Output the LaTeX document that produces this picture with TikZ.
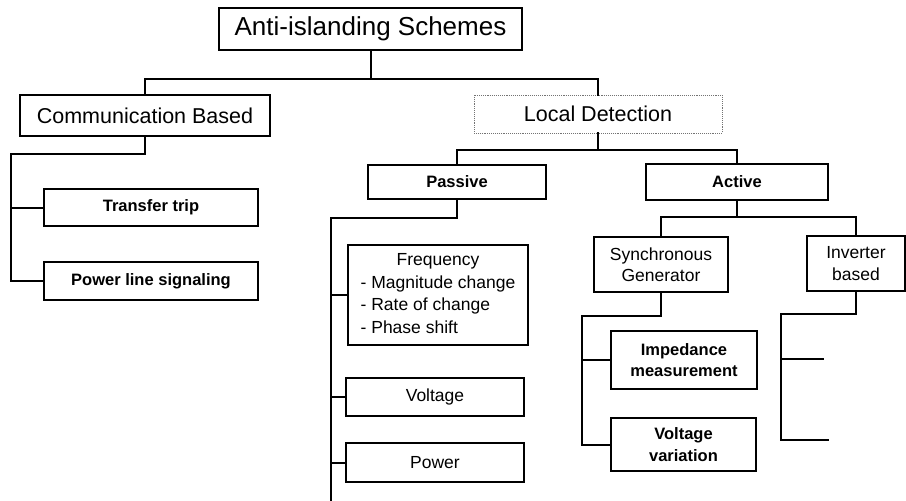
\documentclass[tikz,border=0pt]{standalone}
\usepackage{fontspec}
\setmainfont{Liberation Sans}
\begin{document}
\begin{tikzpicture}[x=1pt,y=-1pt,
  box/.style={draw=black, line width=1.1pt, inner sep=0pt, align=center, fill=white},
  dotbox/.style={draw=black!55, line width=0.9pt, densely dotted, inner sep=0pt, align=center},
  conn/.style={line width=2pt, line cap=rect},
  big/.style={font=\fontsize{26}{31}\selectfont},
  mid/.style={font=\fontsize{21.5}{26}\selectfont},
  sm/.style={font=\fontsize{17.5}{21.5}\selectfont},
  smb/.style={font=\fontsize{16.5}{21.5}\selectfont\bfseries}]
\useasboundingbox (0,0) rectangle (906,501);

% nodes
\node[box, big, minimum width=303pt, minimum height=42pt] (top) at (370.5,29) {Anti-islanding Schemes};
\node[box, mid, minimum width=250pt, minimum height=41pt] (comm) at (145,115.5) {Communication Based};
\node[dotbox, mid, minimum width=248pt, minimum height=38pt] (local) at (598,114) {Local Detection};

\node[box, smb, minimum width=214pt, minimum height=37pt] (tt) at (151,207.5) {Transfer trip};
\node[box, smb, minimum width=214pt, minimum height=38pt] (pls) at (151,281) {Power line signaling};

\node[box, smb, minimum width=178pt, minimum height=34pt] (passive) at (457,182) {Passive};
\node[box, smb, minimum width=182pt, minimum height=36pt] (active) at (737,182) {Active};

\node[box, font=\fontsize{17.5}{22.5}\selectfont, minimum width=180pt, minimum height=100pt] (freq) at (438,295)
  {\begin{tabular}{@{}l@{}}\multicolumn{1}{@{}c@{}}{Frequency}\\- Magnitude change\\- Rate of change\\- Phase shift\end{tabular}};
\node[box, sm, minimum width=178pt, minimum height=38pt] (volt) at (435,397) {Voltage};
\node[box, sm, minimum width=178pt, minimum height=39pt] (pow) at (435,462.5) {Power};

\node[box, sm, minimum width=134pt, minimum height=55pt] (sync) at (661,264.5) {Synchronous\\Generator};
\node[box, sm, minimum width=98pt, minimum height=55pt] (inv) at (856,263.5) {Inverter\\based};

\node[box, smb, minimum width=146pt, minimum height=58pt] (imp) at (684,360) {Impedance\\measurement};
\node[box, smb, minimum width=145pt, minimum height=53pt] (vv) at (683.5,444.5) {Voltage\\variation};

% helper coordinates
\coordinate (bus1) at (0,79);
\coordinate (cl) at (11,154);
\coordinate (bus2) at (0,150);
\coordinate (pl) at (331,218);
\coordinate (pend) at (331,501);
\coordinate (bus3) at (0,217);
\coordinate (sl) at (582,316);
\coordinate (il) at (781,314);
\coordinate (is1) at (823,359);
\coordinate (is2) at (828,440);

% connectors
\draw[conn] (top.south) -- (top.south |- bus1);
\draw[conn] (comm.north) -- (comm.north |- bus1) -| (local.north);

\draw[conn] (comm.south) |- (cl) |- (tt.west);
\draw[conn] (cl) |- (pls.west);

\draw[conn] (local.south) -- (local.south |- bus2);
\draw[conn] (passive.north) -- (passive.north |- bus2) -| (active.north);

\draw[conn] (passive.south) |- (pl) -- (pend);
\draw[conn] (pl) |- (freq.west);
\draw[conn] (pl) |- (volt.west);
\draw[conn] (pl) |- (pow.west);

\draw[conn] (active.south) -- (active.south |- bus3);
\draw[conn] (sync.north) -- (sync.north |- bus3) -| (inv.north);

\draw[conn] (sync.south) |- (sl) |- (imp.west);
\draw[conn] (sl) |- (vv.west);

\draw[conn] (inv.south) |- (il) |- (is1);
\draw[conn] (il) |- (is2);
\end{tikzpicture}
\end{document}
